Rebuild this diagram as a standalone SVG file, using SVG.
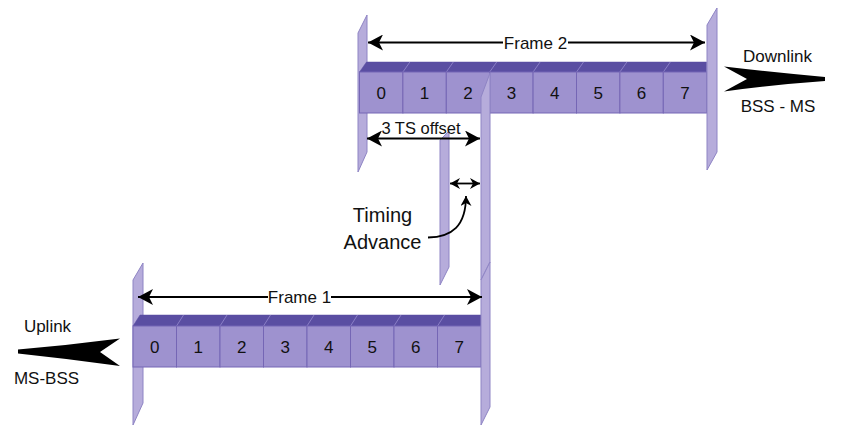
<svg xmlns="http://www.w3.org/2000/svg" width="845" height="441" viewBox="0 0 845 441">
<defs>
<style>
.plate{fill:#b6acdb;stroke:#8e84c4;stroke-width:1}
.band{fill:#5a4ea2;stroke:#5a4ea2;stroke-width:0.5}
.div{stroke:#8a7ec6;stroke-width:1;fill:none}
.slot{fill:#9e92cf;stroke:#7566b5;stroke-width:1}
.num{font-family:"Liberation Sans",Arial,sans-serif;font-size:17px;fill:#111;text-anchor:middle}
.lbl{font-family:"Liberation Sans",Arial,sans-serif;font-size:17px;fill:#111;text-anchor:middle}
.big{font-family:"Liberation Sans",Arial,sans-serif;font-size:20px;fill:#111;text-anchor:middle}
.ln{stroke:#000;stroke-width:1.8;fill:none}
.bigarrow{fill:#000}
</style>
<marker id="ah" markerUnits="userSpaceOnUse" markerWidth="15" markerHeight="16" viewBox="0 0 15 16" refX="15" refY="8" orient="auto-start-reverse">
<path d="M0,0 L15,8 L0,16 L4,8 z" fill="#000"/>
</marker>
<marker id="ahs" markerUnits="userSpaceOnUse" markerWidth="10" markerHeight="11" viewBox="0 0 10 11" refX="10" refY="5.5" orient="auto-start-reverse">
<path d="M0,0 L10,5.5 L0,11 L3,5.5 z" fill="#000"/>
</marker>
</defs>
<rect width="845" height="441" fill="#fff"/>

<!-- back plates -->
<g id="plate-frame2-start"><polygon class="plate" points="358,33 367,15 367,152 358,172"/></g>
<g id="plate-frame1-start"><polygon class="plate" points="133,280 143,263 143,403 133,425"/></g>
<g id="plate-timing"><polygon class="plate" points="440,140 449,131 449,267 440,285"/></g>

<!-- Frame 2 (downlink) -->
<g id="frame2">
<polygon class="band" points="359.5,72 366.5,62 706.7,62 706.7,72"/>
<path class="div" d="M402.9,72 L409.9,62 M446.3,72 L453.3,62 M489.7,72 L496.7,62 M533.1,72 L540.1,62 M576.5,72 L583.5,62 M619.9,72 L626.9,62 M663.3,72 L670.3,62"/>
<rect class="slot" x="359.5" y="72" width="43.4" height="41"/>
<rect class="slot" x="402.9" y="72" width="43.4" height="41"/>
<rect class="slot" x="446.3" y="72" width="43.4" height="41"/>
<rect class="slot" x="489.7" y="72" width="43.4" height="41"/>
<rect class="slot" x="533.1" y="72" width="43.4" height="41"/>
<rect class="slot" x="576.5" y="72" width="43.4" height="41"/>
<rect class="slot" x="619.9" y="72" width="43.4" height="41"/>
<rect class="slot" x="663.3" y="72" width="43.4" height="41"/>
<text class="num" x="381.2" y="99">0</text>
<text class="num" x="424.6" y="99">1</text>
<text class="num" x="468" y="99">2</text>
<text class="num" x="511.4" y="99">3</text>
<text class="num" x="554.8" y="99">4</text>
<text class="num" x="598.2" y="99">5</text>
<text class="num" x="641.6" y="99">6</text>
<text class="num" x="685" y="99">7</text>
</g>

<!-- Frame 1 (uplink) -->
<g id="frame1">
<polygon class="band" points="133,326 140,315 481,315 481,326"/>
<path class="div" d="M176.5,326 L183.5,315 M220,326 L227,315 M263.5,326 L270.5,315 M307,326 L314,315 M350.5,326 L357.5,315 M394,326 L401,315 M437.5,326 L444.5,315"/>
<rect class="slot" x="133" y="326" width="43.5" height="41"/>
<rect class="slot" x="176.5" y="326" width="43.5" height="41"/>
<rect class="slot" x="220" y="326" width="43.5" height="41"/>
<rect class="slot" x="263.5" y="326" width="43.5" height="41"/>
<rect class="slot" x="307" y="326" width="43.5" height="41"/>
<rect class="slot" x="350.5" y="326" width="43.5" height="41"/>
<rect class="slot" x="394" y="326" width="43.5" height="41"/>
<rect class="slot" x="437.5" y="326" width="43.5" height="41"/>
<text class="num" x="154.75" y="353">0</text>
<text class="num" x="198.25" y="353">1</text>
<text class="num" x="241.75" y="353">2</text>
<text class="num" x="285.25" y="353">3</text>
<text class="num" x="328.75" y="353">4</text>
<text class="num" x="372.25" y="353">5</text>
<text class="num" x="415.75" y="353">6</text>
<text class="num" x="459.25" y="353">7</text>
</g>

<!-- front plates -->
<g id="plate-offset"><polygon class="plate" points="481,97 490,73 490,262 481,280"/></g>
<g id="plate-frame1-end"><polygon class="plate" points="481,280 490,262 490,407 481,425"/></g>
<g id="plate-frame2-end"><polygon class="plate" points="707,25 717,8 717,152 707,170"/></g>

<!-- direction arrows -->
<g id="downlink">
<path class="bigarrow" d="M724,66.5 Q770,72 825,77 L825,81 Q770,85 724,91.5 L747,79 Z"/>
<text class="lbl" x="777.5" y="62">Downlink</text>
<text class="lbl" x="778" y="112">BSS - MS</text>
</g>
<g id="uplink">
<path class="bigarrow" d="M120,338.5 Q70,345 18,349.5 L18,353.5 Q70,359 120,366 L100,352 Z"/>
<text class="lbl" x="47.5" y="332">Uplink</text>
<text class="lbl" x="46.5" y="384">MS-BSS</text>
</g>

<!-- connectors -->
<g id="connectors">
<line class="ln" x1="368" y1="42.5" x2="503" y2="42.5" marker-start="url(#ah)"/>
<line class="ln" x1="568" y1="42.5" x2="705" y2="42.5" marker-end="url(#ah)"/>
<line class="ln" x1="138" y1="297" x2="268" y2="297" marker-start="url(#ah)"/>
<line class="ln" x1="331" y1="297" x2="482" y2="297" marker-end="url(#ah)"/>
<line class="ln" x1="367" y1="138.5" x2="480" y2="138.5" marker-start="url(#ah)" marker-end="url(#ah)"/>
<line class="ln" x1="450" y1="183.5" x2="480" y2="183.5" marker-start="url(#ahs)" marker-end="url(#ahs)"/>
<path class="ln" d="M428,237.5 C452,237 466,226 466,196" marker-end="url(#ahs)"/>
</g>

<g id="labels">
<text class="lbl" x="535.5" y="49">Frame 2</text>
<text class="lbl" x="299.5" y="303">Frame 1</text>
<text class="lbl" x="421" y="133.5" style="font-size:16.5px">3 TS offset</text>
<text class="big" x="382.5" y="222">Timing</text>
<text class="big" x="382.5" y="248.5">Advance</text>
</g>
</svg>
